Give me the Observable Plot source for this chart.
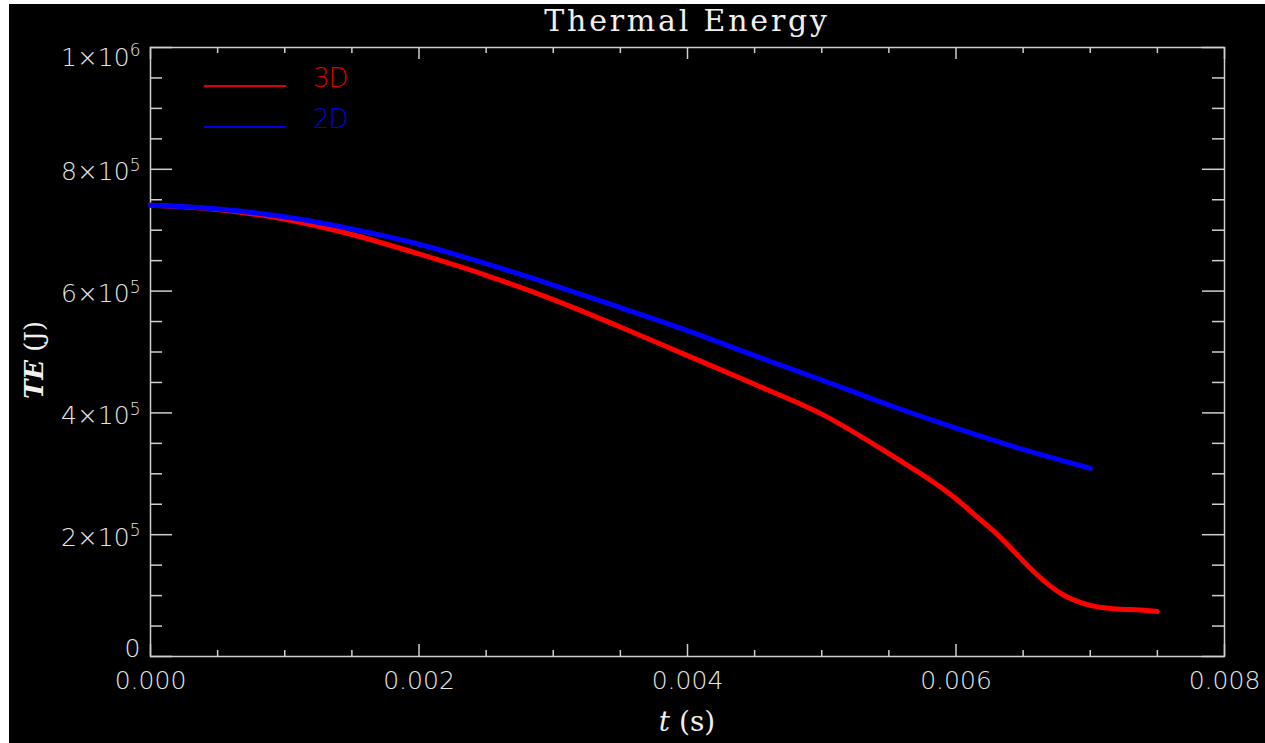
<!DOCTYPE html>
<html>
<head>
<meta charset="utf-8">
<script src="https://cdn.jsdelivr.net/npm/d3@7"></script>
<script src="https://cdn.jsdelivr.net/npm/@observablehq/plot@0.6"></script>
<style>
  html, body { margin: 0; padding: 0; background: #ffffff; width: 1265px; height: 743px; overflow: hidden; }
  #bg { position: absolute; left: 9px; top: 4px; width: 1256px; height: 739px; background: #000; }
  #chart { position: absolute; left: 0; top: 0; }
  .title { position: absolute; top: 3px; left: 0; width: 1374px; text-align: center;
           font-family: "DejaVu Serif", serif; font-size: 30px; color: #f0f0f0; letter-spacing: 2.8px; white-space: nowrap; }
  .xlabel { position: absolute; top: 705px; left: 0; width: 1374px; text-align: center;
           font-family: "DejaVu Serif", serif; font-size: 28px; color: #f0f0f0; white-space: nowrap; }
  .ylabel { position: absolute; left: 34px; top: 360px; transform: translate(-50%, -50%) rotate(-90deg);
           font-family: "DejaVu Serif", serif; font-size: 26px; color: #f0f0f0; white-space: nowrap; }
  .legend { position: absolute; left: 204px; font-family: "DejaVu Sans", sans-serif; font-weight: 200;
           font-size: 26px; letter-spacing: -1px; white-space: nowrap; }
  .legend .ln { display: inline-block; width: 82px; height: 2px; vertical-align: baseline; margin-right: 27px; }
</style>
</head>
<body>
<div id="bg"></div>
<div id="chart"></div>
<div class="title">Thermal Energy</div>
<div class="xlabel"><i>t</i> (s)</div>
<div class="ylabel"><i><b>TE</b></i> (J)</div>
<div id="legend"></div>
<script>
// ---- data ----
const seriesNames = ["3D", "2D"];
const seriesColors = ["#ff0000", "#0000ff"];
const legendColors = ["#dd0000", "#0000e0"];

const t3D  = [0, 0.0005, 0.001, 0.0015, 0.002, 0.0025, 0.003, 0.0035, 0.004, 0.0045, 0.005, 0.0055,
              0.006, 0.0061, 0.0062, 0.0063, 0.0064, 0.0065, 0.0066, 0.0067, 0.0068, 0.0069, 0.007, 0.0071,
              0.0072, 0.0073, 0.0074, 0.0075];
const te3D = [741e3, 734e3, 718e3, 693e3, 661e3, 626e3, 586e3, 541e3, 494e3, 447e3, 398e3, 333e3,
              259e3, 240e3, 221e3, 202e3, 180e3, 157e3, 135e3, 116e3, 101e3, 91e3, 84e3, 80e3,
              78e3, 77e3, 76e3, 74e3];

const t2D  = [0, 0.0005, 0.001, 0.0015, 0.002, 0.0025, 0.003, 0.0035, 0.004, 0.0045, 0.005, 0.0055,
              0.006, 0.0065, 0.007];
const te2D = [741e3, 735e3, 722e3, 702e3, 677e3, 645e3, 610e3, 573e3, 535e3, 494e3, 454e3, 413e3,
              375e3, 340e3, 309e3];

const xMajor = [0, 0.002, 0.004, 0.006, 0.008];
const xMinor = [0.0005, 0.001, 0.0015, 0.0025, 0.003, 0.0035, 0.0045, 0.005, 0.0055, 0.0065, 0.007, 0.0075];
const yMajor = [0, 2e5, 4e5, 6e5, 8e5, 1e6];
const yMinor = [5e4, 1e5, 1.5e5, 2.5e5, 3e5, 3.5e5, 4.5e5, 5e5, 5.5e5, 6.5e5, 7e5, 7.5e5, 8.5e5, 9e5, 9.5e5];

// ---- build tables ----
const d3D = t3D.map((t, i) => ({t, te: te3D[i]}));
const d2D = t2D.map((t, i) => ({t, te: te2D[i]}));

const W = 1265, H = 743, mL = 150, mR = 41, mT = 47, mB = 87;
const fw = W - mL - mR, fh = H - mT - mB;
const axisCol = "#cfcfcf";
const labCol = "#e6e6e6";
const font = "'DejaVu Sans', sans-serif";

function yFmt(v) {
  if (v === 0) return "0";
  const e = Math.floor(Math.log10(v) + 1e-9);
  const m = Math.round(v / Math.pow(10, e));
  return m + "×10^" + e;
}

const txt = {fill: labCol, fontSize: 25, fontFamily: font, fontWeight: 200};

const plot = Plot.plot({
  width: W, height: H,
  marginLeft: mL, marginRight: mR, marginTop: mT, marginBottom: mB,
  style: {background: "transparent", overflow: "visible"},
  x: {domain: [0, 0.008], axis: null},
  y: {domain: [0, 1e6], axis: null},
  marks: [
    // tick marks (inward, on all four sides)
    Plot.ruleX(xMajor, {x: d => d, stroke: axisCol, strokeWidth: 1.5, insetTop: fh - 12}),
    Plot.ruleX(xMajor, {x: d => d, stroke: axisCol, strokeWidth: 1.5, insetBottom: fh - 12}),
    Plot.ruleX(xMinor, {x: d => d, stroke: axisCol, strokeWidth: 1.5, insetTop: fh - 6}),
    Plot.ruleX(xMinor, {x: d => d, stroke: axisCol, strokeWidth: 1.5, insetBottom: fh - 6}),
    Plot.ruleY(yMajor, {y: d => d, stroke: axisCol, strokeWidth: 1.5, insetRight: fw - 22}),
    Plot.ruleY(yMajor, {y: d => d, stroke: axisCol, strokeWidth: 1.5, insetLeft: fw - 22}),
    Plot.ruleY(yMinor, {y: d => d, stroke: axisCol, strokeWidth: 1.5, insetRight: fw - 12}),
    Plot.ruleY(yMinor, {y: d => d, stroke: axisCol, strokeWidth: 1.5, insetLeft: fw - 12}),
    Plot.frame({stroke: axisCol, strokeWidth: 1.5}),
    // tick labels
    Plot.text(xMajor, {x: d => d, frameAnchor: "bottom", dy: 32, text: d => d.toFixed(3), ...txt}),
    Plot.text(yMajor.slice(0, 1), {y: d => d, frameAnchor: "left", dx: -10, dy: -8, textAnchor: "end", text: yFmt, ...txt}),
    Plot.text(yMajor.slice(1, -1), {y: d => d, frameAnchor: "left", dx: -10, dy: 3, textAnchor: "end", text: yFmt, ...txt}),
    Plot.text(yMajor.slice(-1), {y: d => d, frameAnchor: "left", dx: -10, dy: 10, textAnchor: "end", text: yFmt, ...txt}),
    // curves
    Plot.line(d3D, {x: "t", y: "te", stroke: seriesColors[0], strokeWidth: 5, curve: "monotone-x"}),
    Plot.line(d2D, {x: "t", y: "te", stroke: seriesColors[1], strokeWidth: 5, curve: "monotone-x"})
  ]
});

// turn "m×10^e" into real superscripts
d3.select(plot).selectAll("text").each(function () {
  const s = this.textContent;
  const k = s.indexOf("^");
  if (k < 0) return;
  const sel = d3.select(this);
  sel.text(null);
  sel.append("tspan").text(s.slice(0, k));
  sel.append("tspan").attr("dy", "-0.55em").attr("font-size", 17).text(s.slice(k + 1));
});
document.getElementById("chart").appendChild(plot);

// legend (inside the frame, top-left)
const leg = document.getElementById("legend");
const legTops = [63, 104];
seriesNames.forEach((name, i) => {
  const div = document.createElement("div");
  div.className = "legend";
  div.style.top = legTops[i] + "px";
  div.style.color = legendColors[i];
  const ln = document.createElement("span");
  ln.className = "ln";
  ln.style.background = legendColors[i];
  div.appendChild(ln);
  div.appendChild(document.createTextNode(name));
  leg.appendChild(div);
});
</script>
</body>
</html>
